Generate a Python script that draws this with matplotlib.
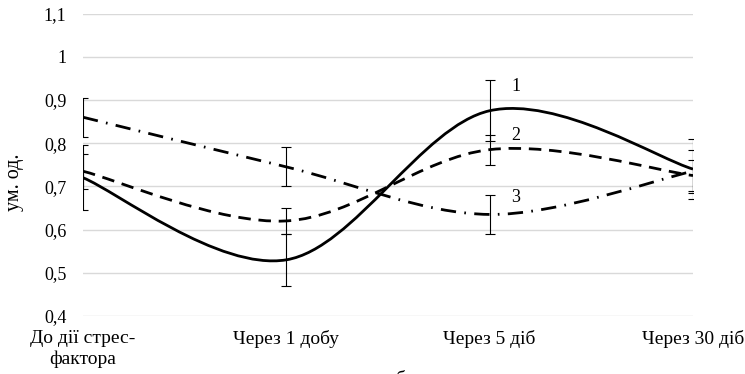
import matplotlib
matplotlib.use("Agg")
import matplotlib.pyplot as plt
from matplotlib.path import Path
from matplotlib.patches import PathPatch

plt.rcParams['font.family'] = ['Liberation Serif', 'DejaVu Serif']

categories = ["До дії стрес-\nфактора", "Через 1 добу", "Через 5 діб", "Через 30 діб"]
series_names = ["1", "2", "3"]
values_1 = [0.72, 0.53, 0.875, 0.74]
values_2 = [0.735, 0.62, 0.785, 0.725]
values_3 = [0.86, 0.745, 0.635, 0.735]
errors_1 = [0.075, 0.06, 0.07, 0.07]
errors_2 = [0.04, 0.03, 0.035, 0.035]
errors_3 = [0.045, 0.045, 0.045, 0.05]
y_ticks = [0.4, 0.5, 0.6, 0.7, 0.8, 0.9, 1.0, 1.1]
y_tick_labels = ["0,4", "0,5", "0,6", "0,7", "0,8", "0,9", "1", "1,1"]


def smooth_path(xs, ys):
    # Excel-like smoothed line: Catmull-Rom segments as cubic Bezier
    pts = list(zip(xs, ys))
    n = len(pts)
    verts = [pts[0]]
    codes = [Path.MOVETO]
    for i in range(n - 1):
        p0 = pts[i - 1] if i > 0 else pts[i]
        p1 = pts[i]
        p2 = pts[i + 1]
        p3 = pts[i + 2] if i + 2 < n else pts[i + 1]
        c1 = (p1[0] + (p2[0] - p0[0]) / 6, p1[1] + (p2[1] - p0[1]) / 6)
        c2 = (p2[0] - (p3[0] - p1[0]) / 6, p2[1] - (p3[1] - p1[1]) / 6)
        verts += [c1, c2, p2]
        codes += [Path.CURVE4] * 3
    return Path(verts, codes)


fig = plt.figure(figsize=(7.45, 3.74), dpi=100)
ax = fig.add_axes([83 / 745, 1 - 316 / 374, 610 / 745, 302.5 / 374])

x = list(range(len(categories)))
styles = [
    ('-', 2.0),
    ((0, (4.5, 2.8)), 2.0),
    ((0, (5.5, 3.0, 0.6, 3.0)), 2.0),
]
all_vals = [values_1, values_2, values_3]
all_errs = [errors_1, errors_2, errors_3]

for vals, errs, (ls, lw) in zip(all_vals, all_errs, styles):
    patch = PathPatch(smooth_path(x, vals), fill=False, edgecolor='black',
                      linestyle=ls, linewidth=lw, zorder=3)
    ax.add_patch(patch)
    ax.errorbar(x, vals, yerr=errs, fmt='none', ecolor='black',
                elinewidth=0.8, capsize=3.5, capthick=0.8, zorder=4)

# series numbers next to the curves
ax.text(2.13, 0.93, series_names[0], fontsize=13, ha='center', va='center')
ax.text(2.13, 0.817, series_names[1], fontsize=13, ha='center', va='center')
ax.text(2.13, 0.675, series_names[2], fontsize=13, ha='center', va='center')

ax.set_xlim(0, 3)
ax.set_ylim(0.4, 1.1)
ax.set_yticks(y_ticks)
ax.set_yticklabels(y_tick_labels, fontsize=13)
ax.set_xticks(x)
ax.set_xticklabels(categories, fontsize=14, linespacing=1.3)
ax.tick_params(length=0)
ax.tick_params(axis='y', pad=12)
ax.tick_params(axis='x', pad=10)
ax.grid(axis='y', color='#d9d9d9', linewidth=1.0)
ax.set_axisbelow(True)
for s in ax.spines.values():
    s.set_visible(False)

fig.text(15 / 745, 1 - 182 / 374, "ум. од.", rotation=90, fontsize=14.5,
         ha='center', va='center')
fig.text(400 / 745, 1 - 371.5 / 374, "б", fontsize=14, ha='center', va='top')

fig.savefig("out.png", dpi=100)
